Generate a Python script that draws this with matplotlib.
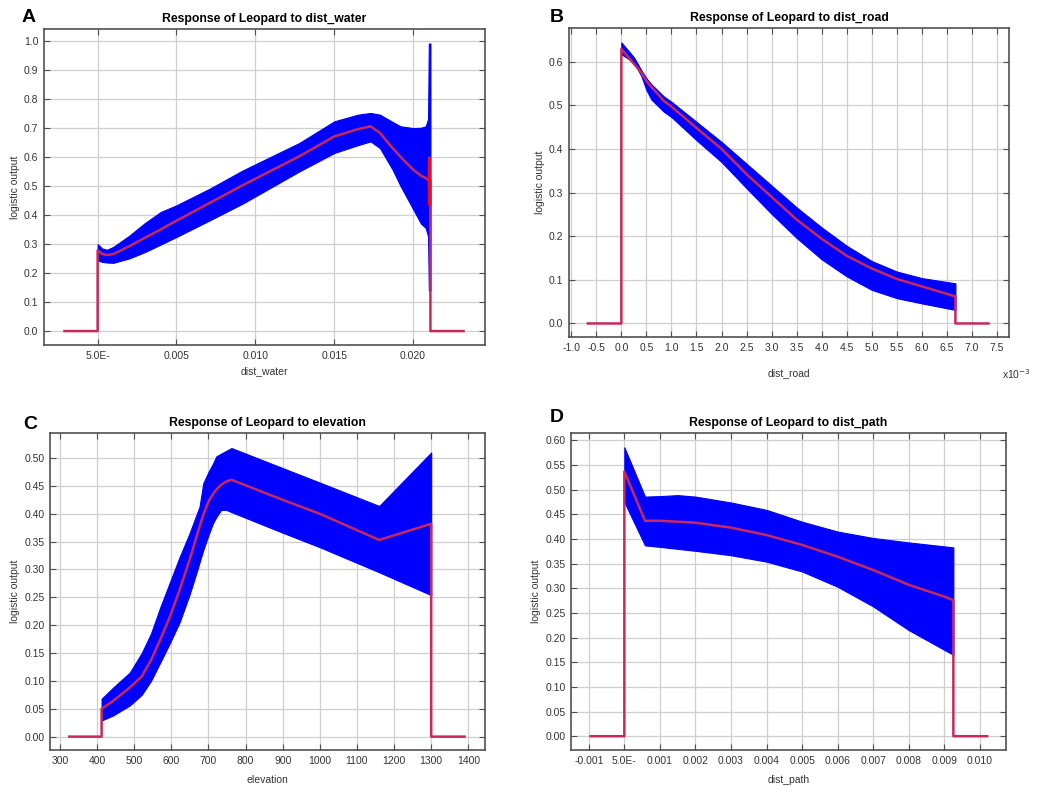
import numpy as np
import matplotlib
matplotlib.use('Agg')
import matplotlib.pyplot as plt

plt.rcParams['font.family'] = ['Liberation Sans', 'DejaVu Sans']

# ---- data ----
# A: dist_water
a_x    = [0.0, 0.0003, 0.0006, 0.001, 0.002, 0.003, 0.004, 0.005, 0.0071, 0.0092, 0.0128, 0.015, 0.0165, 0.0173, 0.0179, 0.0187, 0.0192, 0.0200, 0.0205, 0.0208, 0.02095, 0.0210, 0.0211]
a_mean = [0.278, 0.265, 0.262, 0.265, 0.292, 0.321, 0.35, 0.38, 0.441, 0.502, 0.602, 0.67, 0.695, 0.705, 0.682, 0.63, 0.60, 0.556, 0.535, 0.527, 0.52, 0.52, 0.52]
a_hi   = [0.299, 0.284, 0.28, 0.29, 0.328, 0.372, 0.41, 0.433, 0.49, 0.553, 0.648, 0.722, 0.745, 0.751, 0.745, 0.72, 0.705, 0.699, 0.70, 0.705, 0.73, 0.99, 0.99]
a_lo   = [0.243, 0.238, 0.236, 0.235, 0.25, 0.272, 0.298, 0.324, 0.381, 0.439, 0.55, 0.613, 0.64, 0.653, 0.63, 0.556, 0.50, 0.42, 0.37, 0.355, 0.326, 0.14, 0.14]
a_flat = [-0.0021, 0.0232]

# B: dist_road (x in 1e-3)
b_x    = [0.0, 0.25, 0.4, 0.5, 0.6, 0.85, 1.0, 1.5, 2.0, 2.5, 3.0, 3.5, 4.0, 4.5, 5.0, 5.5, 6.0, 6.67]
b_mean = [0.629, 0.595, 0.575, 0.556, 0.542, 0.51, 0.497, 0.448, 0.40, 0.342, 0.29, 0.238, 0.194, 0.155, 0.126, 0.102, 0.085, 0.062]
b_hi   = [0.644, 0.61, 0.58, 0.562, 0.548, 0.52, 0.508, 0.462, 0.416, 0.366, 0.316, 0.266, 0.22, 0.178, 0.143, 0.119, 0.104, 0.092]
b_lo   = [0.617, 0.598, 0.567, 0.535, 0.513, 0.485, 0.473, 0.42, 0.37, 0.31, 0.251, 0.196, 0.147, 0.108, 0.077, 0.058, 0.046, 0.031]
b_flat = [-0.67, 7.33]

# C: elevation
c_x    = [412, 443, 488, 520, 545, 570, 596, 622, 649, 667, 676, 686, 700, 712, 721, 734, 748, 762, 900, 1000, 1160, 1300]
c_mean = [0.050, 0.064, 0.088, 0.108, 0.137, 0.174, 0.215, 0.263, 0.317, 0.357, 0.377, 0.398, 0.422, 0.435, 0.443, 0.452, 0.458, 0.461, 0.425, 0.40, 0.353, 0.382]
c_hi   = [0.068, 0.088, 0.115, 0.15, 0.185, 0.232, 0.277, 0.322, 0.365, 0.397, 0.413, 0.455, 0.475, 0.49, 0.503, 0.508, 0.513, 0.518, 0.482, 0.456, 0.414, 0.51]
c_lo   = [0.029, 0.038, 0.056, 0.075, 0.10, 0.133, 0.168, 0.205, 0.255, 0.293, 0.313, 0.335, 0.362, 0.383, 0.394, 0.407, 0.407, 0.403, 0.366, 0.34, 0.295, 0.254]
c_flat = [325, 1390]

# D: dist_path
d_x    = [0.0, 0.00058, 0.001, 0.0015, 0.002, 0.003, 0.004, 0.005, 0.006, 0.007, 0.008, 0.009, 0.00925]
d_mean = [0.537, 0.437, 0.437, 0.435, 0.433, 0.423, 0.408, 0.388, 0.364, 0.337, 0.307, 0.283, 0.276]
d_hi   = [0.586, 0.486, 0.487, 0.489, 0.486, 0.474, 0.459, 0.435, 0.415, 0.402, 0.393, 0.385, 0.383]
d_lo   = [0.475, 0.387, 0.384, 0.38, 0.376, 0.367, 0.354, 0.334, 0.303, 0.263, 0.215, 0.175, 0.165]
d_flat = [-0.00095, 0.0102]

titles = ['Response of Leopard to dist_water', 'Response of Leopard to dist_road',
          'Response of Leopard to elevation', 'Response of Leopard to dist_path']
xlabels = ['dist_water', 'dist_road', 'elevation', 'dist_path']
letters = ['A', 'B', 'C', 'D']

BLUE = '#0000ff'
RED = '#c8285c'
GRID = '#cfcfcf'
FRAME = '#505050'

fig = plt.figure(figsize=(10.42, 7.86), dpi=100)
W, H = 1042.0, 786.0

def make_ax(l, r, t, b):
    return fig.add_axes([l / W, 1 - b / H, (r - l) / W, (b - t) / H])

axA = make_ax(44, 485, 29, 345)
axB = make_ax(569, 1009, 28, 337)
axC = make_ax(50, 485, 433, 750)
axD = make_ax(571, 1006, 433, 750)

def draw(ax, x, mean, hi, lo, flat):
    ax.fill_between(x, lo, hi, color=BLUE, lw=0.8, edgecolor=BLUE, zorder=2)
    mx = [flat[0], x[0]] + list(x) + [x[-1], flat[1]]
    my = [0, 0] + list(mean) + [0, 0]
    ax.plot(mx, my, color=RED, lw=1.8, zorder=3)

draw(axA, a_x, a_mean, a_hi, a_lo, a_flat)
# red end segment in A
axA.plot([a_x[-2], a_x[-2]], [0.44, 0.595], color='#e0102a', lw=2.5, zorder=4)
draw(axB, b_x, b_mean, b_hi, b_lo, b_flat)
draw(axC, c_x, c_mean, c_hi, c_lo, c_flat)
draw(axD, d_x, d_mean, d_hi, d_lo, d_flat)

# axis limits and ticks
axA.set_xlim(-0.0034, 0.02456)
axA.set_ylim(-0.048, 1.04)
axA.set_xticks([0.0, 0.005, 0.010, 0.015, 0.020])
axA.set_xticklabels(['5.0E-', '0.005', '0.010', '0.015', '0.020'])
axA.set_yticks(np.arange(0, 1.01, 0.1))
axA.set_yticklabels(['%.1f' % v for v in np.arange(0, 1.01, 0.1)])

axB.set_xlim(-1.045, 7.74)
axB.set_ylim(-0.031, 0.677)
bt = np.arange(-1.0, 7.51, 0.5)
axB.set_xticks(bt)
axB.set_xticklabels(['%.1f' % v for v in bt])
axB.set_yticks(np.arange(0, 0.61, 0.1))
axB.set_yticklabels(['%.1f' % v for v in np.arange(0, 0.61, 0.1)])

axC.set_xlim(273, 1445)
axC.set_ylim(-0.024, 0.545)
axC.set_xticks(np.arange(300, 1401, 100))
ct = np.arange(0, 0.501, 0.05)
axC.set_yticks(ct)
axC.set_yticklabels(['%.2f' % v for v in ct])

axD.set_xlim(-0.0015, 0.01073)
axD.set_ylim(-0.028, 0.615)
dt = np.arange(-0.001, 0.01001, 0.001)
axD.set_xticks(dt)
axD.set_xticklabels(['-0.001', '5.0E-'] + ['%.3f' % v for v in dt[2:]])
dy = np.arange(0, 0.601, 0.05)
axD.set_yticks(dy)
axD.set_yticklabels(['%.2f' % v for v in dy])

xlab_y = [-0.066, -0.10, -0.079, -0.079]
ylab_x = [-0.054, -0.055, -0.069, -0.069]
for ax, t, xl, xy, yx in zip([axA, axB, axC, axD], titles, xlabels, xlab_y, ylab_x):
    ax.grid(True, color=GRID, lw=0.9, zorder=0)
    ax.set_axisbelow(True)
    ax.tick_params(direction='in', top=True, right=True, length=4, width=0.8,
                   color=FRAME, labelsize=7.5, labelcolor='#333333', pad=4)
    for s in ax.spines.values():
        s.set_color(FRAME)
        s.set_linewidth(1.2)
    ax.set_title(t, fontsize=8.8, fontweight='bold', pad=5)
    ax.set_xlabel(xl, fontsize=7.5, color='#333333')
    ax.set_ylabel('logistic output', fontsize=7.5, color='#333333')
    ax.xaxis.set_label_coords(0.5, xy)
    ax.yaxis.set_label_coords(yx, 0.5)

fig.text(1016 / W, 1 - 374 / H, r'x10$^{-3}$', fontsize=7.5, color='#333333', ha='center', va='center')

for letter, (px, py) in zip(letters, [(29, 17), (557, 17), (30, 424), (557, 417)]):
    fig.text(px / W, 1 - py / H, letter, fontsize=14, fontweight='bold', ha='center', va='center')

fig.savefig('out.png', dpi=100)
